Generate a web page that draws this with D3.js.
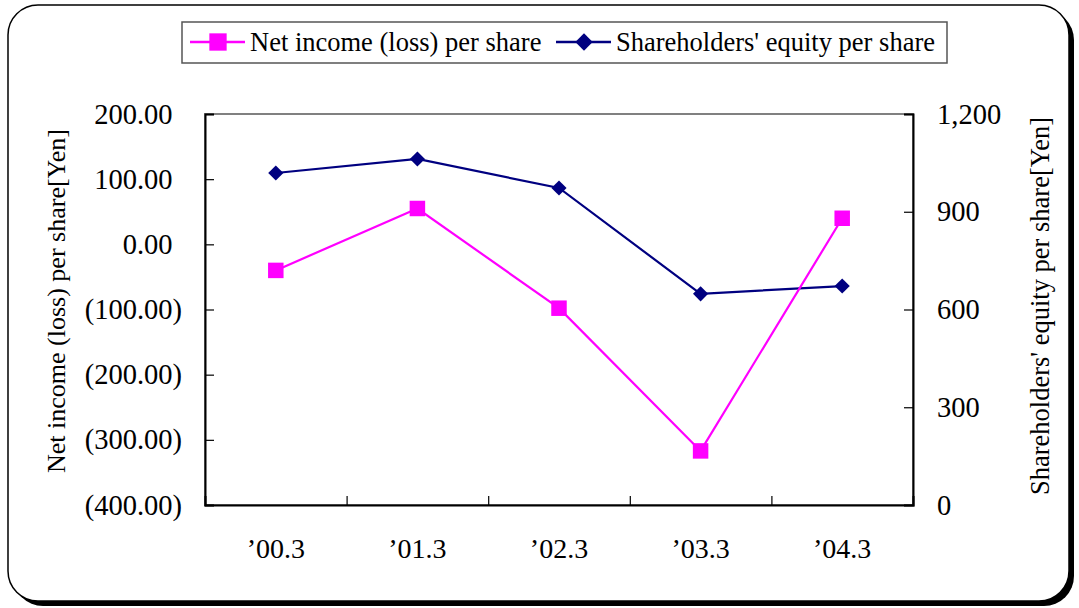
<!DOCTYPE html>
<html>
<head>
  <meta charset="UTF-8">
  <title>Per share data</title>
  <script src="https://d3js.org/d3.v7.min.js"></script>
  <style>
    body { margin: 0; background: #fff; }
    svg text { font-family: "Liberation Serif", "Times New Roman", serif; fill: #000; }
  </style>
</head>
<body>
<svg id="chart"></svg>
<script>
  // chart data
  const periods = ["\u201900.3", "\u201901.3", "\u201902.3", "\u201903.3", "\u201904.3"];
  const netIncome = [-40, 55, -98, -317, 40];
  const equity = [1019, 1062, 973, 648, 672];
  const leftTicks = [200, 100, 0, -100, -200, -300, -400];
  const rightTicks = [0, 300, 600, 900, 1200];
  const seriesNames = ["Net income (loss) per share", "Shareholders' equity per share"];

  const W = 1079, H = 608;
  const plot = {left: 205, right: 913, top: 114, bottom: 505};
  const pink = "#ff00ff", navy = "#000080";

  const svg = d3.select("#chart").attr("width", W).attr("height", H);

  // outer rounded frame with shadow
  svg.append("rect").attr("x", 13).attr("y", 10).attr("width", 1061).attr("height", 596)
    .attr("rx", 30).attr("fill", "#000");
  svg.append("rect").attr("x", 8).attr("y", 5).attr("width", 1061).attr("height", 596)
    .attr("rx", 30).attr("fill", "#fff").attr("stroke", "#000").attr("stroke-width", 1.5);

  const yL = d3.scaleLinear().domain([-400, 200]).range([plot.bottom, plot.top]);
  const yR = d3.scaleLinear().domain([0, 1200]).range([plot.bottom, plot.top]);
  const xb = d3.scaleBand().domain(periods).range([plot.left, plot.right]);
  const xl = d3.scaleLinear().domain([0, periods.length]).range([plot.left, plot.right]);
  const cx = d => xb(d) + xb.bandwidth() / 2;

  // plot area border
  svg.append("rect")
    .attr("x", plot.left).attr("y", plot.top)
    .attr("width", plot.right - plot.left).attr("height", plot.bottom - plot.top)
    .attr("fill", "none").attr("stroke", "#808080").attr("stroke-width", 2);

  const fmtL = v => v < 0 ? "(" + d3.format(".2f")(-v) + ")" : d3.format(".2f")(v);

  const gl = svg.append("g").attr("transform", `translate(${plot.left},0)`)
    .call(d3.axisLeft(yL).tickValues(leftTicks).tickFormat(fmtL).tickSize(-9).tickPadding(23));
  const gr = svg.append("g").attr("transform", `translate(${plot.right},0)`)
    .call(d3.axisRight(yR).tickValues(rightTicks).tickFormat(d3.format(",")).tickSize(-9).tickPadding(24));
  const gb = svg.append("g").attr("transform", `translate(0,${plot.bottom})`)
    .call(d3.axisBottom(xl).tickValues([1, 2, 3, 4]).tickFormat("").tickSize(-9));
  const gx = svg.append("g").attr("transform", `translate(0,${plot.bottom})`)
    .call(d3.axisBottom(xb).tickSize(0).tickPadding(33));

  [gl, gr, gb, gx].forEach(g => {
    g.selectAll(".domain").attr("stroke", "#000").attr("stroke-width", 2);
    g.selectAll(".tick line").attr("stroke", "#000").attr("stroke-width", 1.2);
    g.selectAll("text").attr("font-size", 28.5).attr("font-family", "Liberation Serif");
  });
  gx.selectAll("text").attr("font-size", 28);
  gx.select(".domain").remove();
  // positive values leave room for the closing bracket, as in the accounting format
  gl.selectAll(".tick text").filter(d => d >= 0).attr("dx", "-0.333em");

  // axis titles
  svg.append("text")
    .attr("transform", `translate(65,301) rotate(-90)`)
    .attr("text-anchor", "middle").attr("font-size", 26)
    .text("Net income (loss) per share[Yen]");
  svg.append("text")
    .attr("transform", `translate(1049,306) rotate(-90)`)
    .attr("text-anchor", "middle").attr("font-size", 26.5)
    .text("Shareholders' equity per share[Yen]");

  const sq = d3.symbol().type(d3.symbolSquare);
  const dm = d3.symbol().type(d3.symbolSquare);

  // equity line
  svg.append("path").datum(equity)
    .attr("fill", "none").attr("stroke", navy).attr("stroke-width", 2.2)
    .attr("d", d3.line().x((d, i) => cx(periods[i])).y(d => yR(d)));
  svg.selectAll(".dm").data(equity).enter().append("path")
    .attr("d", dm.size(115)())
    .attr("transform", (d, i) => `translate(${cx(periods[i])},${yR(d)}) rotate(45)`)
    .attr("fill", navy);

  // net income line
  svg.append("path").datum(netIncome)
    .attr("fill", "none").attr("stroke", pink).attr("stroke-width", 2.2)
    .attr("d", d3.line().x((d, i) => cx(periods[i])).y(d => yL(d)));
  svg.selectAll(".sq").data(netIncome).enter().append("path")
    .attr("d", sq.size(240)())
    .attr("transform", (d, i) => `translate(${cx(periods[i])},${yL(d)})`)
    .attr("fill", pink);

  // legend
  const lg = svg.append("g");
  lg.append("rect").attr("x", 182).attr("y", 22).attr("width", 765).attr("height", 41)
    .attr("fill", "#fff").attr("stroke", "#555").attr("stroke-width", 1.5);
  const items = [
    {name: seriesNames[0], color: pink, x0: 190, sym: "sq"},
    {name: seriesNames[1], color: navy, x0: 556, sym: "dm"}
  ];
  items.forEach(it => {
    lg.append("line").attr("x1", it.x0).attr("x2", it.x0 + 55).attr("y1", 42).attr("y2", 42)
      .attr("stroke", it.color).attr("stroke-width", 2.5);
    lg.append("path")
      .attr("d", it.sym === "sq" ? sq.size(300)() : dm.size(150)())
      .attr("transform", `translate(${it.x0 + 28},42)` + (it.sym === "dm" ? " rotate(45)" : ""))
      .attr("fill", it.color);
    lg.append("text").attr("x", it.x0 + 60).attr("y", 51).attr("font-size", 26.5).text(it.name);
  });
</script>
</body>
</html>
